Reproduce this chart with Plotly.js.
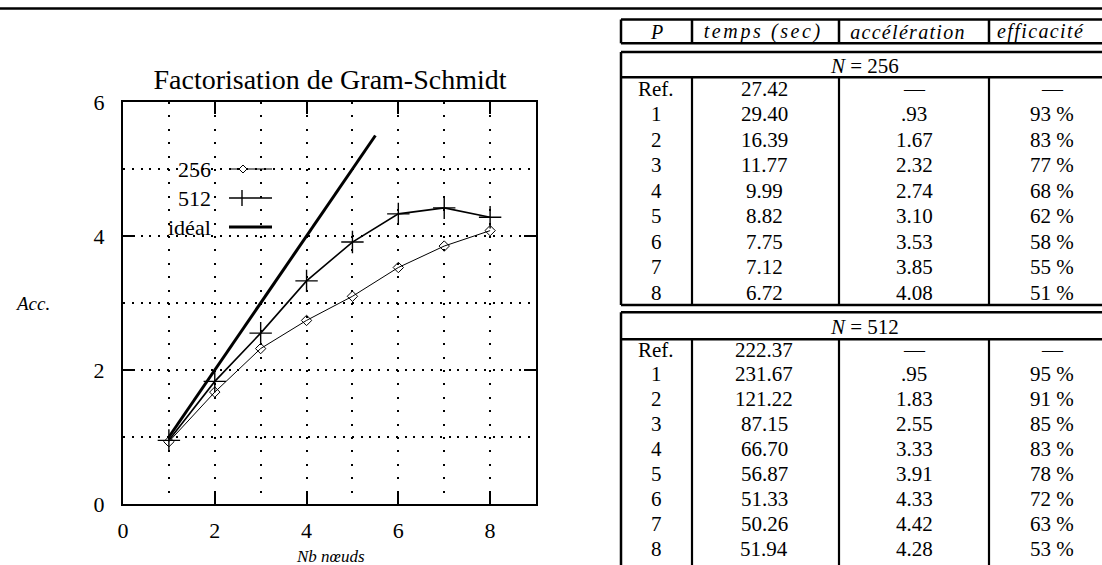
<!DOCTYPE html>
<html>
<head>
<meta charset="utf-8">
<script src="https://cdn.plot.ly/plotly-3.0.1.min.js"></script>
<style>html,body{margin:0;padding:0;background:#fff;}</style>
</head>
<body>
<div id="chart" style="width:1102px;height:565px;"></div>
<script>
// ---- chart data ----
const procs = [1, 2, 3, 4, 5, 6, 7, 8];
const acc256 = [0.93, 1.67, 2.32, 2.74, 3.10, 3.53, 3.85, 4.08];
const acc512 = [0.95, 1.83, 2.55, 3.33, 3.91, 4.33, 4.42, 4.28];
const idealX = [1, 5.5];
const idealY = [1, 5.5];
const xTicks = [0, 2, 4, 6, 8];
const yTicks = [0, 2, 4, 6];
const legendNames = ['256', '512', 'idéal'];

// ---- table data ----
const headers = ['P', 'temps (sec)', 'accélération', 'efficacité'];
const rowLabels = ['Ref.', '1', '2', '3', '4', '5', '6', '7', '8'];
const temps256 = ['27.42', '29.40', '16.39', '11.77', '9.99', '8.82', '7.75', '7.12', '6.72'];
const accTxt256 = ['—', '.93', '1.67', '2.32', '2.74', '3.10', '3.53', '3.85', '4.08'];
const eff256 = ['—', '93 %', '83 %', '77 %', '68 %', '62 %', '58 %', '55 %', '51 %'];
const temps512 = ['222.37', '231.67', '121.22', '87.15', '66.70', '56.87', '51.33', '50.26', '51.94'];
const accTxt512 = ['—', '.95', '1.83', '2.55', '3.33', '3.91', '4.33', '4.42', '4.28'];
const eff512 = ['—', '95 %', '91 %', '85 %', '83 %', '78 %', '72 %', '63 %', '53 %'];
const groupTitles = ['<i>N</i> = 256', '<i>N</i> = 512'];

// ---- geometry (pixels) ----
const Wd = 1102, Ht = 565;
const L = 123, R = 536, T = 102, B = 504;
const PW = R - L, PH = B - T;
const px = x => (x - L) / PW;
const py = y => 1 - (y - T) / PH;
const FONT = 'Liberation Serif, Times New Roman, serif';

const shapes = [];
const annotations = [];
function hline(x0, x1, y, w) {
  shapes.push({type: 'line', xref: 'paper', yref: 'paper', x0: px(x0), x1: px(x1), y0: py(y), y1: py(y),
    line: {color: '#000', width: w}, layer: 'above'});
}
function vline(x, y0, y1, w) {
  shapes.push({type: 'line', xref: 'paper', yref: 'paper', x0: px(x), x1: px(x), y0: py(y0), y1: py(y1),
    line: {color: '#000', width: w}, layer: 'above'});
}
function text(t, x, y, size, opts) {
  annotations.push(Object.assign({text: t, xref: 'paper', yref: 'paper', x: px(x), y: py(y),
    xanchor: 'center', yanchor: 'middle', showarrow: false,
    font: {family: FONT, size: size, color: '#000'}}, opts || {}));
}

// top rule
hline(0, 1110, 8.5, 2.5);

// ---- table ----
const colEdges = [621, 692, 839, 989, 1115];
const colCenters = [656, 764, 914, 1052];
const headCenters = [656, 763, 908, 1041];
const headSpacing = [0, 2.6, 1.3, 1.4];
const TF = 21;
// header box
hline(621, 1115, 19.5, 2.5);
hline(621, 1115, 43.3, 2.5);
colEdges.slice(0, 4).forEach(x => vline(x, 19.5, 43.3, 2.5));
headers.forEach((h, i) => text('<i>' + h + '</i>', headCenters[i], 31.5, 20));

function group(top, sep, bottom, firstRow, lastRow, title, cols) {
  hline(621, 1115, top, 2.5);
  hline(621, 1115, sep, 2.5);
  hline(621, 1115, bottom, 2.5);
  vline(621, top, bottom, 2.5);
  colEdges.slice(1, 4).forEach(x => vline(x, sep, bottom, 2.2));
  text(title, 864, (top + sep) / 2 + 1, TF);
  const n = rowLabels.length;
  const step = (lastRow - firstRow) / (n - 1);
  for (let r = 0; r < n; r++) {
    const y = firstRow + r * step;
    cols.forEach((c, ci) => text(c[r], colCenters[ci], y, TF));
  }
}
group(52, 77.3, 305, 88.5, 293, groupTitles[0], [rowLabels, temps256, accTxt256, eff256]);
group(312.3, 339.3, 575, 349.5, 548.5, groupTitles[1], [rowLabels, temps512, accTxt512, eff512]);

// ---- legend (custom, text left of sample) ----
const legY = [169, 198, 227];
legendNames.forEach((n, i) => text(n, 213, legY[i], 22, {xanchor: 'right'}));
hline(229, 272, legY[0], 1);
hline(229, 272, legY[1], 1.6);
hline(229, 272, legY[2], 3);
(function () {
  const cx = 243, cy = legY[0], d = 4;
  shapes.push({type: 'path', xref: 'paper', yref: 'paper',
    path: `M ${px(cx)} ${py(cy - d)} L ${px(cx + d)} ${py(cy)} L ${px(cx)} ${py(cy + d)} L ${px(cx - d)} ${py(cy)} Z`,
    line: {color: '#000', width: 1}, fillcolor: '#fff', layer: 'above'});
})();
vline(242, legY[1] - 8, legY[1] + 8, 1.4);

// axis titles
text('<i>Acc.</i>', 32, 303, 19);
text('<i>Nb nœuds</i>', 330, 556.5, 17);

const traces = [
  {x: procs, y: acc256, mode: 'lines+markers', name: legendNames[0],
   line: {color: '#000', width: 1},
   marker: {symbol: 'diamond-open', size: 8, color: '#000', line: {width: 1}}},
  {x: procs, y: acc512, mode: 'lines+markers', name: legendNames[1],
   line: {color: '#000', width: 1.6},
   marker: {symbol: 'cross-thin-open', size: 16, color: '#000', line: {width: 1.4}}},
  {x: idealX, y: idealY, mode: 'lines', name: legendNames[2],
   line: {color: '#000', width: 3}}
];

const layout = {
  width: Wd, height: Ht,
  margin: {l: L, r: Wd - R, t: T, b: Ht - B, pad: 0},
  paper_bgcolor: '#fff', plot_bgcolor: '#fff',
  showlegend: false,
  title: {text: 'Factorisation de Gram-Schmidt', font: {family: FONT, size: 28, color: '#000'},
    xref: 'container', yref: 'container', x: 330 / Wd, y: 1 - 79 / Ht, xanchor: 'center', yanchor: 'middle'},
  xaxis: {range: [0, 9], tickvals: xTicks, ticks: 'inside', ticklen: 12, tickwidth: 2, tickcolor: '#000',
    showline: true, linewidth: 2, linecolor: '#000', mirror: 'ticks', zeroline: false,
    showgrid: true, gridcolor: '#000', gridwidth: 2, griddash: '2px,11.4px',
    minor: {tickvals: [1, 3, 5, 7], showgrid: true, gridcolor: '#000', gridwidth: 2, griddash: '2px,11.4px', ticks: ''},
    tickfont: {family: FONT, size: 22, color: '#000'}, ticklabelstandoff: 6, fixedrange: true},
  yaxis: {range: [0, 6], tickvals: yTicks, ticks: 'inside', ticklen: 12, tickwidth: 2, tickcolor: '#000',
    showline: true, linewidth: 2, linecolor: '#000', mirror: 'ticks', zeroline: false,
    showgrid: true, gridcolor: '#000', gridwidth: 2, griddash: '2px,6.8px',
    minor: {tickvals: [1, 3, 5], showgrid: true, gridcolor: '#000', gridwidth: 2, griddash: '2px,6.8px', ticks: ''},
    tickfont: {family: FONT, size: 22, color: '#000'}, ticklabelstandoff: 12, fixedrange: true},
  shapes: shapes,
  annotations: annotations
};

Plotly.newPlot('chart', traces, layout, {displayModeBar: false, staticPlot: true}).then(gd => {
  // widen the spaced italic column headers like the original typesetting
  gd.querySelectorAll('.annotation-text').forEach(el => {
    const i = headers.indexOf(el.textContent);
    if (i > 0) el.style.letterSpacing = headSpacing[i] + 'px';
  });
});
</script>
</body>
</html>
